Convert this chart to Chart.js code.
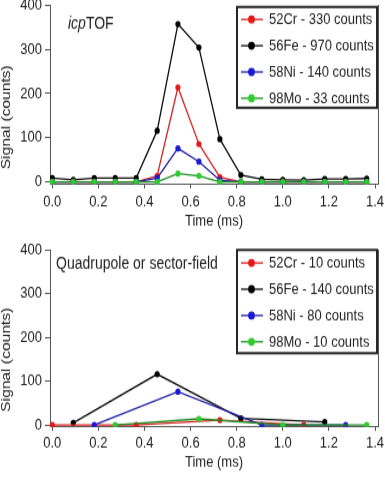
<!DOCTYPE html>
<html>
<head>
<meta charset="utf-8">
<script src="https://cdn.jsdelivr.net/npm/chart.js@4.4.1/dist/chart.umd.min.js"></script>
<style>
html,body{margin:0;padding:0;background:#fff;}
canvas{display:block;width:385px;height:240px;}
</style>
</head>
<body>
<canvas id="c1" width="385" height="200" style="width:385px;height:240px"></canvas>
<canvas id="c2" width="385" height="200" style="width:385px;height:240px"></canvas>
<script>
// ---- data ----
const X_TICKS = [0, 0.2, 0.4, 0.6, 0.8, 1.0, 1.2, 1.4];
const Y_TICKS = [0, 100, 200, 300, 400];

const SERIES_NAMES = ["52Cr", "56Fe", "58Ni", "98Mo"];
const X_TITLE = "Time (ms)";
const Y_TITLE = "Signal (counts)";

// icpTOF (top panel)
const TOF_TIME = [0, 0.091, 0.182, 0.273, 0.364, 0.455, 0.545, 0.636, 0.727, 0.818, 0.909, 1.0, 1.091, 1.182, 1.273, 1.364];
const TOF_CR = [0, 0, 0, 0, 0, 14, 214, 86, 11, 0, 0, 0, 0, 0, 0, 0];
const TOF_FE = [9, 5, 9, 9, 9, 116, 357, 304, 97, 16, 6, 5, 4, 7, 7, 8];
const TOF_NI = [0, 0, 0, 0, 0, 9, 76, 46, 4, 0, 0, 0, 0, 0, 0, 0];
const TOF_MO = [0, 0, 0, 0, 0, 0, 19, 14, 0, 0, 0, 0, 0, 0, 0, 0];
const TOF_LABELS = ["52Cr - 330 counts", "56Fe - 970 counts", "58Ni - 140 counts", "98Mo - 33 counts"];
const TOF_NOTE = ["icp", "TOF"];

// Quadrupole / sector-field (bottom panel)
const Q_CR_TIME = [0, 0.364, 0.727, 1.091];
const Q_CR = [0, 0, 11, 0];
const Q_FE_TIME = [0.091, 0.455, 0.818, 1.182];
const Q_FE = [5, 116, 15, 7];
const Q_NI_TIME = [0.182, 0.545, 0.909, 1.273];
const Q_NI = [0, 76, 0, 0];
const Q_MO_TIME = [0.273, 0.636, 1.0, 1.364];
const Q_MO = [0, 14, 0, 0];
const Q_LABELS = ["52Cr - 10 counts", "56Fe - 140 counts", "58Ni - 80 counts", "98Mo - 10 counts"];
const Q_NOTE = "Quadrupole or sector-field";

// ---- styles ----
const FONT = "'Liberation Sans', Arial, sans-serif";
const LINE_COLORS = ["rgb(215,35,35)", "rgb(15,15,15)", "rgb(30,30,165)", "rgb(35,140,35)"];
const POINT_COLORS = ["rgb(230,25,25)", "rgb(0,0,0)", "rgb(25,25,215)", "rgb(45,205,45)"];
const DRAW_ORDER = [2, 3, 1, 0];
const AXIS_COLOR = "#555";
const TEXT_COLOR = "#222";

function pts(xs, ys) { return xs.map((x, i) => ({ x: x, y: ys[i] })); }

function makeDatasets(pairs) {
  return pairs.map((p, i) => ({
    label: SERIES_NAMES[i],
    data: pts(p[0], p[1]),
    borderColor: LINE_COLORS[i],
    backgroundColor: POINT_COLORS[i],
    pointBackgroundColor: POINT_COLORS[i],
    pointBorderColor: POINT_COLORS[i],
    pointBorderWidth: 0,
    pointRadius: 2.6,
    borderWidth: 1.3,
    tension: 0,
    order: DRAW_ORDER[i]
  }));
}

const panelPlugin = {
  id: 'panel',
  afterDraw(chart, args, opts) {
    const ctx = chart.ctx;
    const a = chart.chartArea;
    ctx.save();
    // y-axis title
    ctx.save();
    ctx.translate(6.5, a.bottom - 56);
    ctx.rotate(-Math.PI / 2);
    ctx.font = "13px " + FONT;
    ctx.fillStyle = TEXT_COLOR;
    ctx.textAlign = "center";
    ctx.textBaseline = "middle";
    ctx.fillText(Y_TITLE, 0, 0);
    ctx.restore();
    // legend box
    const bw = 140, bh = opts.boxH;
    const bx = a.right - bw - 1, by = a.top + opts.boxDy;
    ctx.lineWidth = 2;
    ctx.strokeStyle = "#262626";
    ctx.strokeRect(bx, by, bw, bh);
    ctx.font = "13px " + FONT;
    ctx.textBaseline = "middle";
    ctx.textAlign = "left";
    opts.labels.forEach((lab, i) => {
      const y = by + opts.first + i * opts.step;
      ctx.strokeStyle = LINE_COLORS[i];
      ctx.lineWidth = 1.3;
      ctx.beginPath();
      ctx.moveTo(bx + 4, y);
      ctx.lineTo(bx + 26, y);
      ctx.stroke();
      ctx.fillStyle = POINT_COLORS[i];
      ctx.beginPath();
      ctx.arc(bx + 14.5, y, 3.4, 0, Math.PI * 2);
      ctx.fill();
      ctx.fillStyle = TEXT_COLOR;
      ctx.fillText(lab, bx + 32, y + 0.5);
    });
    // note text
    ctx.fillStyle = TEXT_COLOR;
    ctx.textBaseline = "alphabetic";
    let x = a.left + opts.noteDx;
    const y = a.top + opts.noteDy;
    if (Array.isArray(opts.note)) {
      ctx.font = "italic 14px " + FONT;
      ctx.fillText(opts.note[0], x, y);
      x += ctx.measureText(opts.note[0]).width;
      ctx.font = "14px " + FONT;
      ctx.fillText(opts.note[1], x, y);
    } else {
      ctx.font = "14px " + FONT;
      ctx.fillText(opts.note, x, y);
    }
    ctx.restore();
  }
};

function makeChart(id, datasets, cfg) {
  return new Chart(document.getElementById(id), {
    type: 'line',
    data: { datasets: datasets },
    plugins: [panelPlugin],
    options: {
      responsive: false,
      animation: false,
      devicePixelRatio: 1,
      layout: { padding: { top: cfg.padTop, right: 7, left: 0, bottom: 0 } },
      plugins: {
        legend: { display: false },
        tooltip: { enabled: false },
        panel: cfg.panel
      },
      scales: {
        x: {
          type: 'linear',
          min: -0.01,
          max: 1.413,
          afterBuildTicks: s => { s.ticks = X_TICKS.map(v => ({ value: v })); },
          afterFit: s => { s.height = cfg.xHeight; s.paddingLeft = 0; s.paddingRight = 0; },
          ticks: {
            callback: v => Number(v).toFixed(1),
            font: { family: FONT, size: 13 },
            color: TEXT_COLOR,
            padding: cfg.xTickPad,
            maxRotation: 0,
            autoSkip: false
          },
          grid: { display: true, drawOnChartArea: false, drawTicks: true, tickLength: 3.3, color: AXIS_COLOR, lineWidth: 1 },
          border: { display: true, color: AXIS_COLOR, width: 1 },
          title: {
            display: true, text: X_TITLE, color: TEXT_COLOR,
            font: { family: FONT, size: 13 },
            padding: { top: 0, bottom: cfg.xTitlePad }
          }
        },
        y: {
          type: 'linear',
          position: 'left',
          min: cfg.yMin,
          max: 400,
          afterBuildTicks: s => { s.ticks = Y_TICKS.map(v => ({ value: v })); },
          afterFit: s => { s.width = 50; s.paddingTop = 0; s.paddingBottom = 0; },
          ticks: {
            font: { family: FONT, size: 13 },
            color: TEXT_COLOR,
            padding: 3
          },
          grid: { display: true, drawOnChartArea: false, drawTicks: true, tickLength: 5, color: AXIS_COLOR, lineWidth: 1 },
          border: { display: true, color: AXIS_COLOR, width: 1 },
          title: { display: false }
        },
        y2: {
          type: 'linear',
          position: 'right',
          display: true,
          afterFit: s => { s.width = 0; s.paddingTop = 0; s.paddingBottom = 0; },
          ticks: { display: false },
          grid: { display: false, drawTicks: false },
          border: { display: true, color: AXIS_COLOR, width: 1 }
        }
      }
    }
  });
}

makeChart('c1', makeDatasets([
  [TOF_TIME, TOF_CR], [TOF_TIME, TOF_FE], [TOF_TIME, TOF_NI], [TOF_TIME, TOF_MO]
]), {
  padTop: 4.2, xHeight: 46.25, yMin: -5.6, xTitlePad: 8.2, xTickPad: 3.5,
  panel: { labels: TOF_LABELS, note: TOF_NOTE, boxDy: 1.6, boxH: 84, first: 10.4, step: 21.9, noteDx: 18, noteDy: 20 }
});

makeChart('c2', makeDatasets([
  [Q_CR_TIME, Q_CR], [Q_FE_TIME, Q_FE], [Q_NI_TIME, Q_NI], [Q_MO_TIME, Q_MO]
]), {
  padTop: 8.3, xHeight: 44.2, yMin: -4.6, xTitlePad: 6.6, xTickPad: 2.5,
  panel: { labels: Q_LABELS, note: Q_NOTE, boxDy: 0, boxH: 86, first: 10.8, step: 21.9, noteDx: 6, noteDy: 16 }
});
</script>
</body>
</html>
